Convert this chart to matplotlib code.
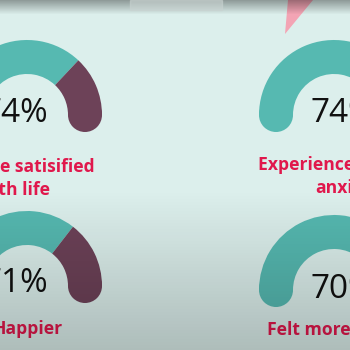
import numpy as np
import matplotlib.pyplot as plt
from matplotlib.patches import Rectangle, Polygon, Wedge, Circle

# gauge values (percent) and their labels, one list of lines per gauge
values = [74, 74, 71, 70]
label_lines = [["More satisified", "with life"],
               ["Experienced less", "anxiety"],
               ["Happier"],
               ["Felt more connected"]]

# layout (pixel coordinates of the video frame crop)
centers = [(27, 115), (334, 115), (27, 286), (334, 290)]
left_col = [True, False, True, False]
pct_anchor = [(48, 113), (311, 113), (48, 283), (310, 289)]
# anchor of each label line: right end for the left column, start for the right
line_anchor = [[(95, 167), (50, 190)],
               [(258, 165), (315, 188)],
               [(63, 329)],
               [(267, 330)]]

teal = "#56b9b1"
maroon = "#6d4258"
red = "#e0184c"
bg = "#dcefec"
radius = 58
thick = 34

fig = plt.figure(figsize=(3.5, 3.5), dpi=100)
fig.patch.set_facecolor(bg)
ax = fig.add_axes([0, 0, 1, 1])
ax.set_xlim(0, 350)
ax.set_ylim(350, 0)
ax.axis("off")
ax.set_facecolor(bg)

r_out = radius + thick / 2
for (xc, yc), v in zip(centers, values):
    split = 180 - 1.8 * v
    # y axis runs downward, so the upper half has negative data angles
    ax.add_patch(Wedge((xc, yc), r_out, -180, -split, width=thick,
                       color=teal, zorder=3, lw=0))
    ax.add_patch(Wedge((xc, yc), r_out, -split, 0, width=thick,
                       color=maroon, zorder=3, lw=0))
    ax.add_patch(Circle((xc - radius, yc), thick / 2, color=teal, zorder=3, lw=0))
    ax.add_patch(Circle((xc + radius, yc), thick / 2, color=maroon, zorder=3, lw=0))

for (x, y), v, lc in zip(pct_anchor, values, left_col):
    ax.text(x, y, f"{v}%", fontsize=24, family="Open Sans",
            color="#111111", ha="right" if lc else "left", va="center", zorder=4)

for lines, anchors, lc in zip(label_lines, line_anchor, left_col):
    for line, (x, y) in zip(lines, anchors):
        ax.text(x, y, line, fontsize=12.6, family="Open Sans", weight="bold",
                color=red, ha="right" if lc else "left", va="center", zorder=4)

# pink pointer at the top
ax.add_patch(Polygon([(288, 0), (313, 0), (285, 34)], closed=True,
                     color="#f3a4b4", zorder=4, lw=0))

# player overlay box
ax.add_patch(Rectangle((130, 0), 92, 10, color="#c9d3d1", alpha=0.6, zorder=6))

# darkening towards the bottom and the top edge of the frame
ys = np.linspace(0, 350, 351)
alpha = np.clip((ys - 190) / 160, 0, 1) * 0.21 + np.clip((14 - ys) / 14, 0, 1) * 0.35
shade = np.zeros((351, 1, 4))
shade[:, 0, 3] = alpha
ax.imshow(shade, extent=(0, 350, 350, 0), aspect="auto", zorder=5,
          interpolation="bilinear")
ax.set_xlim(0, 350)
ax.set_ylim(350, 0)

fig.savefig("out.png", dpi=100, facecolor=bg)
